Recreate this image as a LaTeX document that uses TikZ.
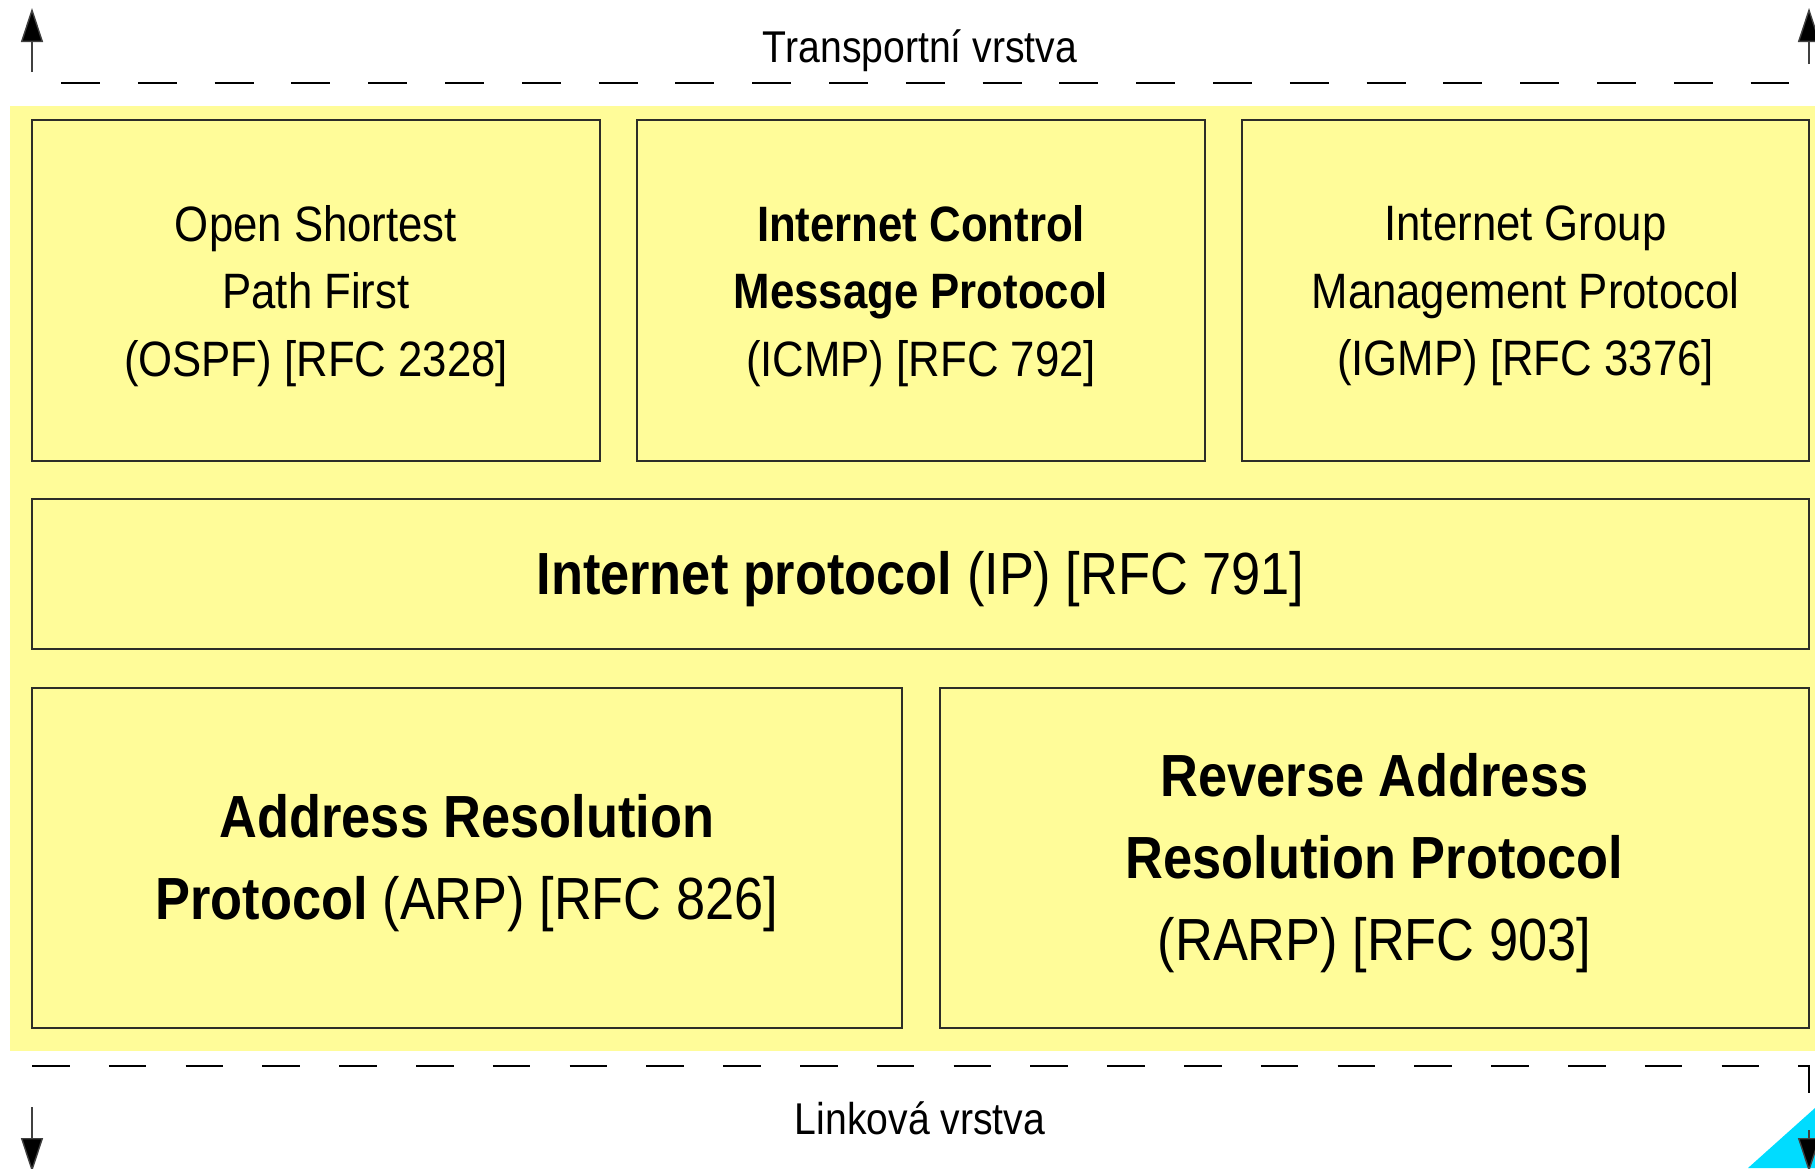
\documentclass[tikz,border=0pt]{standalone}
\usepackage{fontspec}
\setmainfont{Liberation Sans}[FakeStretch=0.88]
\usetikzlibrary{arrows.meta}
\definecolor{bgyellow}{RGB}{255,252,153}
\definecolor{cornercyan}{RGB}{0,220,255}
\definecolor{boxline}{RGB}{45,45,40}
\tikzset{
  proto/.style={draw=boxline, line width=1.4pt, fill=none, inner sep=0pt},
  smalltxt/.style={font=\fontsize{49.7}{67.7}\selectfont, align=center, inner sep=0pt},
  bigtxt/.style={font=\fontsize{59.5}{82}\selectfont, align=center, inner sep=0pt},
  layertxt/.style={font=\fontsize{44.5}{54}\selectfont, inner sep=0pt},
  layerarrow/.style={draw=black!75, line width=1.4pt, -{Triangle[length=34pt,width=22pt,fill=black]}},
  sepline/.style={draw=black, line width=1.5pt}
}
\begin{document}
\begin{tikzpicture}[x=1pt,y=-1pt]
\useasboundingbox (0,0) rectangle (1815,1168);
\clip (0,0) rectangle (1815,1168);
% yellow background
\fill[bgyellow] (10,106) rectangle (1815,1051);
% cyan corner
\fill[cornercyan] (1748,1168) -- (1815,1108) -- (1815,1168) -- cycle;
% protocol boxes
\node[proto, minimum width=568pt, minimum height=341pt] (ospf) at (316,290.5) {};
\node[proto, minimum width=568pt, minimum height=341pt] (icmp) at (921,290.5) {};
\node[proto, minimum width=567pt, minimum height=341pt] (igmp) at (1525.5,290.5) {};
\node[proto, minimum width=1777pt, minimum height=150pt] (ip) at (920.5,574) {};
\node[proto, minimum width=870pt, minimum height=340pt] (arp) at (467,858) {};
\node[proto, minimum width=869pt, minimum height=340pt] (rarp) at (1374.5,858) {};
% box texts
\node[smalltxt] (ospft) at ([yshift=-5.5pt]ospf.center)
  {Open Shortest\\Path First\\(OSPF) [RFC 2328]};
\node[smalltxt] (icmpt) at ([yshift=-5.5pt]icmp.center)
  {\textbf{Internet Control}\\\textbf{Message Protocol}\\(ICMP) [RFC 792]};
\node[smalltxt] (igmpt) at ([yshift=-5.5pt]igmp.center)
  {Internet Group\\Management Protocol\\(IGMP) [RFC 3376]};
\node[bigtxt] (ipt) at ([yshift=-5.5pt]ip.center)
  {\textbf{Internet protocol} (IP) [RFC 791]};
\node[bigtxt] (arpt) at ([yshift=-5.5pt]arp.center)
  {\textbf{Address Resolution}\\\textbf{Protocol} (ARP) [RFC 826]};
\node[bigtxt] (rarpt) at ([yshift=-5.5pt]rarp.center)
  {\textbf{Reverse Address}\\\textbf{Resolution Protocol}\\(RARP) [RFC 903]};
% layer labels
\node[layertxt] (transport) at (920,50.5) {Transportní vrstva};
\node[layertxt] (link) at (920,1118) {Linková vrstva};
% dashed separators
\coordinate (tdl) at (61,83);
\coordinate (tdr) at (1789,83);
\draw[sepline, dash pattern=on 39pt off 37.8pt] (tdl) -- (tdr);
\coordinate (bdl) at (32,1066);
\coordinate (bdr) at (1809,1066);
\coordinate (bdd) at (1809,1093);
\draw[sepline, dash pattern=on 37.5pt off 39.3pt] (bdl) -- (bdr) -- (bdd);
% arrows
\coordinate (a1s) at (32,72);   \coordinate (a1e) at (32,8);
\coordinate (a2s) at (1809,64); \coordinate (a2e) at (1809,8);
\coordinate (a3s) at (32,1107); \coordinate (a3e) at (32,1172);
\coordinate (a4s) at (1809,1130); \coordinate (a4e) at (1809,1172);
\draw[layerarrow] (a1s) -- (a1e);
\draw[layerarrow] (a2s) -- (a2e);
\draw[layerarrow] (a3s) -- (a3e);
\draw[layerarrow] (a4s) -- (a4e);
\end{tikzpicture}
\end{document}
